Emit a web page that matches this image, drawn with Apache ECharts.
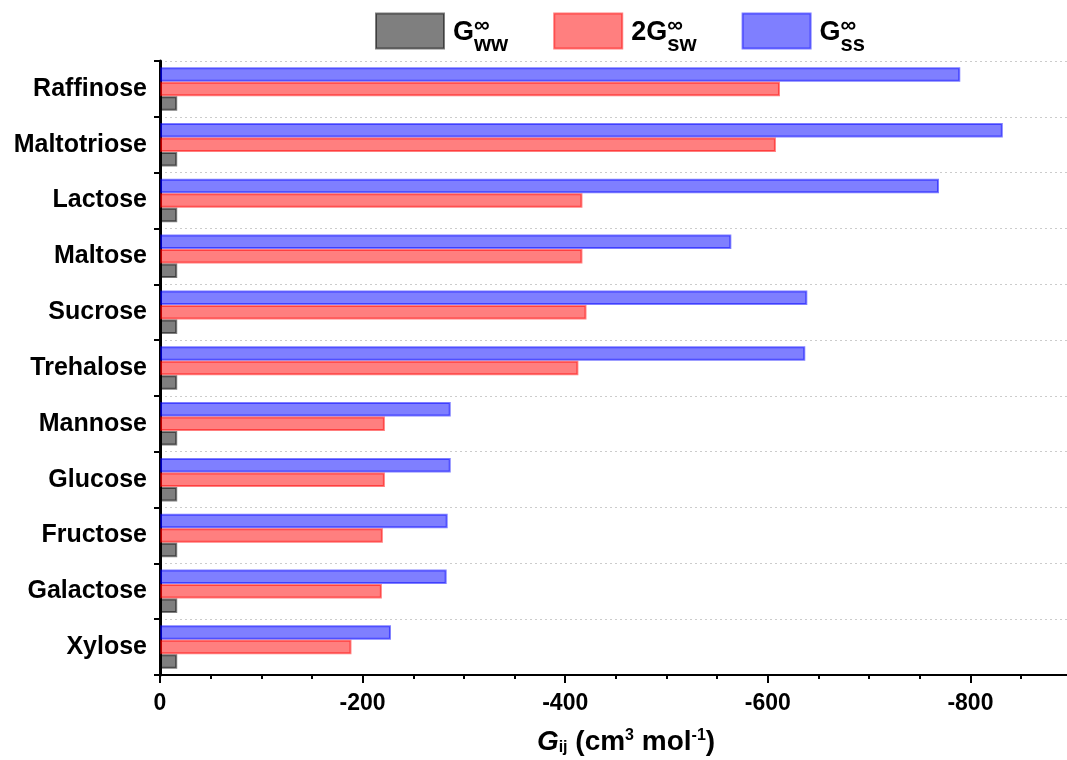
<!DOCTYPE html>
<html><head><meta charset="utf-8">
<script src="https://cdn.jsdelivr.net/npm/echarts@6/dist/echarts.min.js"></script>
<style>html,body{margin:0;padding:0;background:#fff;overflow:hidden}#c{width:1173px;height:760px}</style>
</head><body><div id="c"></div>
<script>
const categories = ['Raffinose','Maltotriose','Lactose','Maltose','Sucrose','Trehalose','Mannose','Glucose','Fructose','Galactose','Xylose'];
const Gww    = [-17,-17,-17,-17,-17,-17,-17,-17,-17,-17,-17];
const twoGsw = [-612,-608,-417,-417,-421,-413,-222,-222,-220,-219,-189];
const Gss    = [-790,-832,-769,-564,-639,-637,-287,-287,-284,-283,-228];
const seriesNames = ['Gww','2Gsw','Gss'];

const FONT = "'Liberation Sans', Arial, sans-serif";
const legendLabels = {
  'Gww':  '{h| }{g|G}{sup|∞}{sub|ww}',
  '2Gsw': '{h| }{g|2G}{sup|∞}{sub|sw}',
  'Gss':  '{h| }{g|G}{sup|∞}{sub|ss}'
};

const chart = echarts.init(document.getElementById('c'), null, { width: 1173, height: 760 });
function barSeries(name, data, rgb) {
  return {
    name: name, type: 'bar', data: data,
    barWidth: 14.5, barGap: '0%',
    itemStyle: {
      color: 'rgba(' + rgb + ',0.5)',
      borderColor: 'rgba(' + rgb + ',0.5)',
      borderWidth: 2
    }
  };
}
chart.setOption({
  animation: false,
  backgroundColor: '#fff',
  grid: { left: 160, right: 0, top: 61, bottom: 85, containLabel: false, outerBoundsMode: 'none' },
  legend: {
    data: seriesNames,
    left: 375, top: 6, padding: 0,
    icon: 'rect',
    itemWidth: 68, itemHeight: 35, itemGap: 45,
    formatter: function (n) { return legendLabels[n]; },
    textStyle: {
      fontFamily: FONT, color: '#000',
      rich: {
        h:   { fontSize: 10, fontFamily: FONT, lineHeight: 50, width: 0, verticalAlign: 'top' },
        g:   { fontSize: 27, fontWeight: 'bold', fontFamily: FONT, color: '#000', lineHeight: 30, verticalAlign: 'middle', padding: [3, 0, 0, 4] },
        sup: { fontSize: 22, fontWeight: 'bold', fontFamily: FONT, color: '#000', lineHeight: 20, verticalAlign: 'top', width: 0, padding: [9, 0, 0, 0] },
        sub: { fontSize: 22, fontWeight: 'bold', fontFamily: FONT, color: '#000', lineHeight: 23, verticalAlign: 'bottom' }
      }
    }
  },
  xAxis: {
    type: 'value', min: -1000, max: 0, interval: 200, inverse: true,
    axisLine: { show: true, lineStyle: { color: '#000', width: 2 } },
    axisTick: { show: true, length: 8, lineStyle: { color: '#000', width: 2 } },
    minorTick: { show: true, splitNumber: 4, length: 4, lineStyle: { color: '#000', width: 2 } },
    splitLine: { show: false },
    axisLabel: { fontFamily: FONT, fontSize: 23, fontWeight: 'bold', color: '#000', margin: 17 }
  },
  yAxis: {
    type: 'category', data: categories, inverse: true,
    axisLine: { show: true, lineStyle: { color: '#000', width: 3 } },
    axisTick: { show: true, length: 6, lineStyle: { color: '#000', width: 2 } },
    axisLabel: { fontFamily: FONT, fontSize: 25, fontWeight: 'bold', color: '#000', margin: 13 },
    splitLine: { show: true, lineStyle: { color: '#cccccc', type: [2, 3], width: 1 } }
  },
  graphic: [{
    type: 'text', x: 626, y: 742,
    style: {
      text: '{i|G}{sub|ij}{n| (cm}{sup|3}{n| mol}{sup|-1}{n|)}',
      align: 'center', verticalAlign: 'middle',
      rich: {
        i:   { font: "italic bold 28px 'Liberation Sans', Arial, sans-serif", fontFamily: FONT, fontSize: 28, fontWeight: 'bold', fontStyle: 'italic', fill: '#000', lineHeight: 28, verticalAlign: 'middle' },
        n:   { fontFamily: FONT, fontSize: 28, fontWeight: 'bold', fill: '#000', lineHeight: 28, verticalAlign: 'middle' },
        sub: { fontFamily: FONT, fontSize: 16, fontWeight: 'bold', fill: '#000', lineHeight: 16, verticalAlign: 'bottom' },
        sup: { fontFamily: FONT, fontSize: 16, fontWeight: 'bold', fill: '#000', lineHeight: 16, verticalAlign: 'top' }
      }
    }
  }],
  series: [
    barSeries(seriesNames[2], Gss, '0,0,255'),
    barSeries(seriesNames[1], twoGsw, '255,0,0'),
    barSeries(seriesNames[0], Gww, '0,0,0')
  ]
});
</script></body></html>
